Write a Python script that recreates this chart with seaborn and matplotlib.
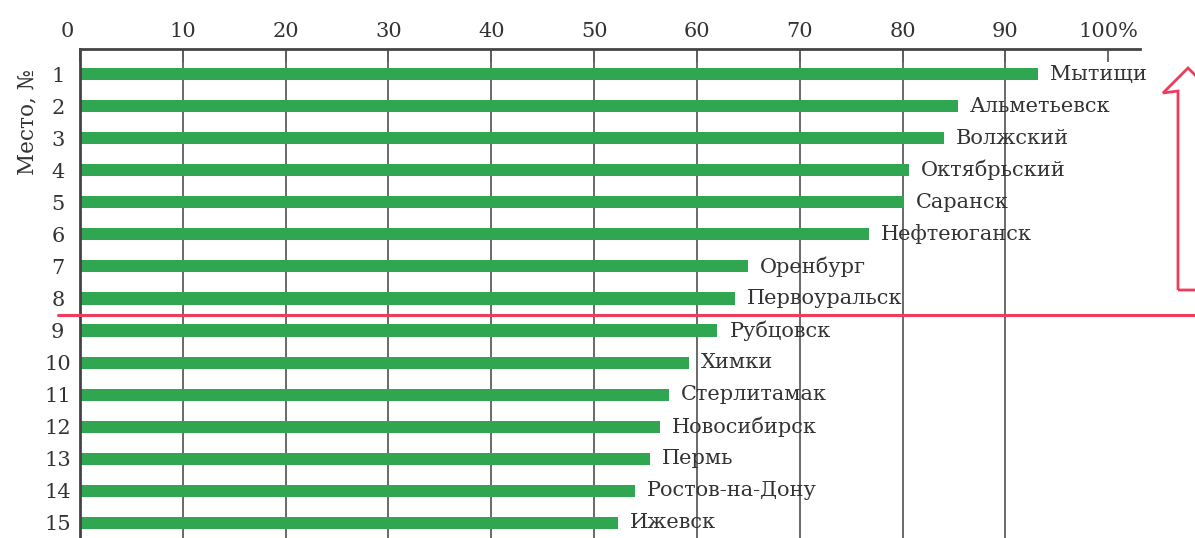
import matplotlib.pyplot as plt
import seaborn as sns
import pandas as pd
from matplotlib.patches import Polygon
from matplotlib.transforms import ScaledTranslation

# data
places = [str(i) for i in range(1, 16)]
cities = ['Мытищи', 'Альметьевск', 'Волжский', 'Октябрьский', 'Саранск',
          'Нефтеюганск', 'Оренбург', 'Первоуральск', 'Рубцовск', 'Химки',
          'Стерлитамак', 'Новосибирск', 'Пермь', 'Ростов-на-Дону', 'Ижевск']
percent = [93.2, 85.4, 84.0, 80.6, 80.1, 76.7, 65.0, 63.7, 62.0, 59.2,
           57.3, 56.4, 55.4, 54.0, 52.3]
xticks = [0, 10, 20, 30, 40, 50, 60, 70, 80, 90, 100]
xtick_labels = ['0', '10', '20', '30', '40', '50', '60', '70', '80', '90', '100%']

data = pd.DataFrame({'place': places, 'city': cities, 'percent': percent})

sns.set_style('white')
plt.rcParams['font.family'] = ['DejaVu Serif']

text_col = '#333333'
line_col = '#5e5e5e'
red = '#ee3d5a'

fig = plt.figure(figsize=(11.95, 5.38), dpi=100)
ax = fig.add_axes([80 / 1195, 0, 1060 / 1195, 489 / 538])

# bars
sns.barplot(data=data, x='percent', y='place', orient='h',
            color='#30a650', saturation=1, width=0.38, linewidth=0, ax=ax)

ax.set_xlim(0, 103.1)
ax.set_ylim(14.47, -0.78)

# vertical grid lines (not at 0 and 100)
ax.vlines(xticks[1:-1], -0.78, 14.47, colors=line_col, lw=1.3, zorder=0.5)

# city names next to the bars
for i, row in data.iterrows():
    ax.annotate(row['city'],
                xy=(row['percent'], i),
                xytext=(12, 0),
                textcoords='offset pixels',
                va='center', ha='left',
                fontsize=15, color=text_col)

# axes
ax.xaxis.tick_top()
ax.set_xticks(xticks, xtick_labels)
ax.tick_params(axis='x', top=True, bottom=False, direction='in', length=9,
               width=1.3, color=line_col, pad=6, labelsize=15,
               labelcolor=text_col)
ax.tick_params(axis='y', length=0, pad=16, labelsize=15, labelcolor=text_col)
for lab in ax.get_yticklabels():
    lab.set_horizontalalignment('center')
zero = ax.get_xticklabels()[0]
zero.set_transform(zero.get_transform() +
                   ScaledTranslation(-0.13, 0, fig.dpi_scale_trans))
ax.set_xlabel('')
ax.set_ylabel('')

for s in ['right', 'bottom']:
    ax.spines[s].set_visible(False)
for s in ['top', 'left']:
    ax.spines[s].set_linewidth(2)
    ax.spines[s].set_color('#444444')

fig.text(27 / 1195, 1 - 122 / 538, 'Место, №', rotation=90,
         ha='center', va='center', fontsize=15.5, color=text_col)

# red border line between 8 and 9 place
ax.plot([-2.1, 108.5], [7.5, 7.5], color=red, lw=2.2, clip_on=False, zorder=3)

# hollow red arrow on the right
pts = [(1178, 290), (1178, 91), (1163, 93), (1188, 68), (1213, 93),
       (1198, 91), (1198, 290)]
pts = [(x / 1195, 1 - y / 538) for x, y in pts]
fig.patches.append(Polygon(pts, closed=True, fill=False, edgecolor=red,
                           lw=2, transform=fig.transFigure, figure=fig))

plt.savefig('out.png', dpi=100)
